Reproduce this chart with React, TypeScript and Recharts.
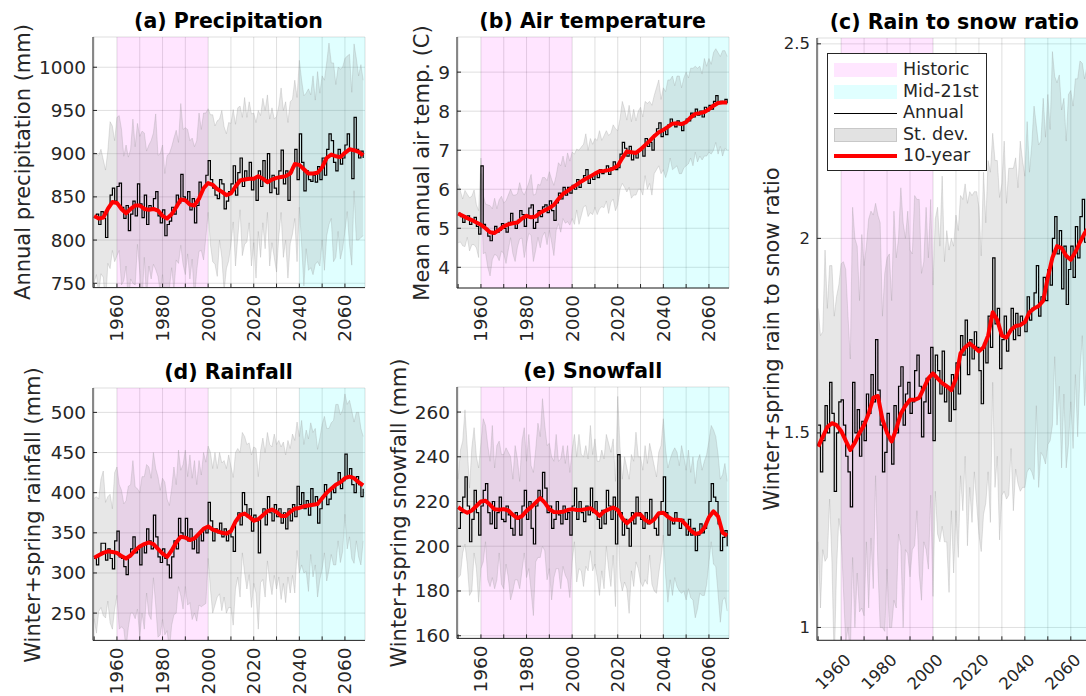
import React from 'react';
import { ComposedChart, Line, Area, XAxis, YAxis, CartesianGrid, ReferenceArea } from 'recharts';

const FIRST_YEAR = 1950;
const X_DOMAIN: [number, number] = [1949.5, 2068.8];
const X_TICKS = [1950, 1960, 1970, 1980, 1990, 2000, 2010, 2020, 2030, 2040, 2050, 2060];
const HISTORIC: [number, number] = [1960, 2000];
const MID_21ST: [number, number] = [2040, 2070];

// (a) annual precipitation, mm (one value per year from 1950)
const PRECIP_ANNUAL = [
  826, 830, 818, 833, 825, 803, 838, 852, 860, 845,
  862, 866, 838, 825, 840, 811, 830, 845, 828, 865,
  842, 826, 852, 818, 840, 835, 848, 856, 828, 820,
  835, 805, 818, 822, 838, 830, 852, 843, 876, 850,
  845, 856, 835, 848, 820, 840, 867, 858, 862, 875,
  892, 870, 860, 852, 848, 870, 865, 836, 845, 856,
  865, 886, 852, 878, 895, 862, 880, 870, 890, 858,
  872, 846, 880, 862, 892, 870, 900, 855, 875, 860,
  853, 880, 904, 865, 880, 846, 878, 885, 905, 870,
  923, 890, 857, 880, 870, 868, 875, 867, 885, 870,
  895, 875, 905, 923, 915, 890, 880, 905, 888, 895,
  910, 923, 905, 871, 942, 905, 895, 903, 895,
];
const PRECIP_SD = [
  75, 70, 80, 72, 68, 78, 65, 85, 72, 70,
  80, 78, 90, 72, 70, 85, 75, 95, 80, 70,
  78, 100, 72, 85, 70, 80, 76, 90, 70, 80,
  75, 72, 80, 78, 70, 88, 75, 70, 82, 78,
  85, 72, 80, 70, 88, 75, 80, 70, 85, 72,
  60, 75, 85, 80, 90, 70, 85, 95, 78, 80,
  70, 65, 82, 75, 60, 80, 85, 72, 70, 88,
  75, 90, 70, 82, 72, 80, 68, 85, 78, 80,
  90, 75, 72, 85, 80, 90, 82, 78, 80, 95,
  85, 95, 110, 90, 105, 100, 115, 95, 110, 100,
  95, 110, 100, 105, 90, 115, 100, 95, 110, 105,
  100, 90, 110, 100, 85, 105, 95, 100, 90,
];
// 10-year mean, every second year from 1950
const PRECIP_TEN = [
  828, 825, 826, 836, 844, 843, 836, 831, 836, 840,
  840, 836, 835, 836, 834, 828, 825, 830, 838, 847,
  846, 841, 840, 848, 860, 866, 864, 859, 856, 852,
  854, 862, 869, 870, 871, 871, 874, 871, 867, 870,
  872, 873, 874, 877, 888, 887, 882, 877, 877, 878,
  884, 895, 899, 897, 896, 901, 905, 904, 902, 898,
];

// (b) mean annual air temperature, C
const TEMP_ANNUAL = [
  5.38, 5.30, 5.15, 5.25, 5.32, 5.10, 5.20, 5.28, 5.05, 4.85,
  6.60, 5.10, 5.00, 4.80, 4.68, 4.85, 5.05, 4.90, 4.95, 5.12,
  5.00, 4.90, 5.15, 5.38, 5.10, 5.00, 5.20, 5.45, 5.35, 5.05,
  5.30, 5.52, 5.60, 5.00, 5.15, 5.45, 5.30, 5.55, 5.60, 5.40,
  5.70, 5.45, 5.20, 5.65, 5.90, 5.75, 6.05, 5.85, 6.05, 5.90,
  6.10, 6.00, 6.25, 6.05, 6.20, 6.35, 6.50, 6.15, 6.35, 6.25,
  6.42, 6.30, 6.50, 6.40, 6.45, 6.60, 6.38, 6.55, 6.70, 6.50,
  6.55, 6.90, 7.20, 7.05, 6.85, 7.10, 6.75, 6.95, 6.80, 7.00,
  7.05, 6.85, 7.30, 7.10, 7.20, 7.00, 7.40, 7.55, 7.70, 7.35,
  7.55, 7.40, 7.65, 7.80, 7.70, 7.60, 7.75, 7.65, 7.50, 7.70,
  7.80, 7.75, 7.95, 7.85, 8.05, 7.90, 8.00, 7.85, 8.10, 8.00,
  8.15, 8.05, 8.25, 8.40, 8.20, 8.25, 8.20, 8.30, 8.20,
];
const TEMP_SD = [
  0.75, 0.65, 0.60, 0.72, 0.55, 0.68, 0.62, 0.70, 0.55, 0.60,
  0.20, 0.75, 0.62, 0.80, 0.90, 0.65, 0.72, 0.60, 0.78, 0.70,
  0.65, 0.80, 0.70, 0.62, 0.75, 0.85, 0.68, 0.72, 0.60, 0.80,
  0.70, 0.65, 0.78, 0.85, 0.72, 0.68, 0.80, 0.75, 0.70, 0.82,
  0.75, 0.80, 0.90, 0.70, 0.78, 0.85, 0.80, 0.72, 0.88, 0.82,
  0.85, 0.90, 0.78, 0.95, 0.88, 0.80, 0.92, 0.85, 0.95, 0.90,
  0.88, 0.95, 1.00, 0.85, 0.92, 0.90, 1.00, 0.88, 0.95, 1.05,
  0.95, 0.90, 1.05, 1.00, 0.92, 1.05, 0.98, 1.10, 0.95, 1.00,
  1.05, 1.00, 0.95, 1.10, 1.05, 1.15, 1.00, 1.05, 1.10, 0.95,
  1.05, 1.10, 1.15, 1.00, 1.20, 1.05, 1.15, 1.25, 1.10, 1.15,
  1.20, 1.10, 1.15, 1.25, 1.10, 1.20, 1.15, 1.10, 1.25, 1.15,
  1.20, 1.15, 1.25, 1.20, 1.30, 1.15, 1.35, 1.25, 1.20,
];
const TEMP_TEN = [
  5.38, 5.32, 5.26, 5.21, 5.15, 5.09, 5.00, 4.90, 4.88, 4.96,
  5.05, 5.10, 5.13, 5.15, 5.25, 5.32, 5.28, 5.30, 5.40, 5.46,
  5.52, 5.60, 5.75, 5.88, 5.96, 6.04, 6.12, 6.20, 6.27, 6.33,
  6.40, 6.46, 6.47, 6.49, 6.53, 6.60, 6.80, 6.97, 6.95, 6.93,
  7.02, 7.13, 7.24, 7.36, 7.46, 7.52, 7.60, 7.68, 7.69, 7.67,
  7.72, 7.84, 7.93, 7.95, 7.98, 8.05, 8.14, 8.21, 8.22, 8.22,
];

// (c) winter+spring rain to snow ratio
const RATIO_ANNUAL = [
  1.52, 1.40, 1.48, 1.57, 1.50, 1.63, 1.55, 1.35, 1.50, 1.58,
  1.585, 1.52, 1.44, 1.40, 1.31, 1.63, 1.50, 1.56, 1.44, 1.53,
  1.48, 1.60, 1.55, 1.65, 1.58, 1.74, 1.61, 1.52, 1.40, 1.45,
  1.55, 1.48, 1.42, 1.57, 1.50, 1.62, 1.67, 1.52, 1.60, 1.63,
  1.55, 1.58, 1.66, 1.70, 1.62, 1.49, 1.58, 1.64, 1.55, 1.72,
  1.48, 1.70, 1.66, 1.60, 1.71, 1.58, 1.62, 1.53, 1.65, 1.56,
  1.68, 1.60, 1.75, 1.70, 1.79, 1.65, 1.74, 1.69, 1.76, 1.72,
  1.66, 1.575, 1.73, 1.68, 1.80, 1.72, 1.95, 1.78, 1.82, 1.665,
  1.74, 1.80, 1.71, 1.76, 1.82, 1.74, 1.807, 1.75, 1.80, 1.78,
  1.76, 1.85, 1.79, 1.82, 1.86, 1.93, 1.80, 1.85, 1.90, 1.84,
  1.92, 1.88, 2.00, 2.056, 1.96, 2.02, 1.87, 1.98, 1.83, 1.92,
  1.98, 1.90, 2.03, 1.95, 2.056, 2.10, 1.99, 2.06, 2.02,
];
const RATIO_SD = [
  0.30, 0.35, 0.28, 0.40, 0.32, 0.30, 0.38, 0.45, 0.35, 0.30,
  0.35, 0.42, 0.48, 0.40, 0.38, 0.45, 0.50, 0.42, 0.40, 0.48,
  0.45, 0.38, 0.50, 0.42, 0.48, 0.35, 0.45, 0.52, 0.40, 0.46,
  0.40, 0.48, 0.42, 0.50, 0.45, 0.38, 0.46, 0.52, 0.40, 0.44,
  0.42, 0.38, 0.45, 0.40, 0.48, 0.42, 0.36, 0.44, 0.40, 0.38,
  0.40, 0.35, 0.42, 0.38, 0.45, 0.36, 0.40, 0.44, 0.35, 0.42,
  0.38, 0.42, 0.36, 0.40, 0.35, 0.44, 0.38, 0.42, 0.36, 0.40,
  0.42, 0.38, 0.44, 0.36, 0.40, 0.45, 0.32, 0.42, 0.38, 0.44,
  0.40, 0.45, 0.38, 0.42, 0.36, 0.44, 0.40, 0.38, 0.45, 0.42,
  0.40, 0.45, 0.38, 0.42, 0.48, 0.36, 0.44, 0.40, 0.46, 0.42,
  0.45, 0.40, 0.48, 0.36, 0.44, 0.40, 0.46, 0.38, 0.42, 0.45,
  0.40, 0.44, 0.38, 0.46, 0.40, 0.35, 0.42, 0.38, 0.40,
];
const RATIO_TEN = [
  1.465, 1.49, 1.515, 1.525, 1.52, 1.505, 1.48, 1.456, 1.475, 1.50,
  1.52, 1.55, 1.59, 1.595, 1.535, 1.50, 1.478, 1.51, 1.55, 1.57,
  1.585, 1.585, 1.59, 1.615, 1.64, 1.653, 1.64, 1.628, 1.62, 1.61,
  1.64, 1.705, 1.72, 1.73, 1.72, 1.71, 1.72, 1.75, 1.81, 1.79,
  1.75, 1.745, 1.765, 1.775, 1.777, 1.785, 1.81, 1.82, 1.826, 1.84,
  1.90, 1.95, 1.98, 1.975, 1.955, 1.945, 1.965, 1.99, 2.013, 2.03,
];

// (d) winter+spring rainfall, mm
const RAIN_ANNUAL = [
  318, 310, 322, 337, 337, 316, 330, 318, 305, 340,
  352, 320, 318, 308, 298, 320, 330, 345, 325, 330,
  310, 335, 325, 355, 340, 330, 372, 345, 320, 313,
  330, 318, 310, 294, 320, 340, 330, 368, 350, 345,
  368, 340, 355, 330, 345, 325, 350, 340, 355, 350,
  388, 365, 340, 355, 350, 362, 345, 355, 340, 352,
  345, 327, 365, 375, 360, 400, 385, 370, 380, 352,
  372, 365, 325, 370, 380, 360, 395, 375, 365, 385,
  370, 380, 362, 375, 355, 380, 365, 385, 370, 408,
  385, 400, 380, 390, 372, 405, 385, 395, 362, 380,
  395, 410, 385, 392, 405, 400, 410, 425, 405, 415,
  448, 420, 430, 410, 400, 420, 410, 395, 405,
];
const RAIN_SD = [
  75, 85, 70, 80, 90, 72, 65, 80, 75, 85,
  80, 90, 85, 78, 92, 88, 80, 95, 82, 75,
  90, 85, 95, 80, 92, 88, 78, 85, 100, 90,
  88, 95, 82, 90, 85, 92, 80, 85, 78, 90,
  85, 80, 92, 88, 95, 85, 90, 82, 95, 88,
  70, 85, 90, 95, 80, 88, 92, 85, 90, 95,
  88, 92, 85, 80, 90, 75, 85, 90, 82, 95,
  85, 90, 95, 82, 88, 90, 80, 85, 92, 88,
  90, 85, 95, 88, 92, 85, 90, 88, 95, 80,
  85, 90, 80, 88, 95, 82, 90, 85, 92, 88,
  90, 85, 95, 88, 82, 90, 100, 85, 92, 88,
  75, 90, 85, 92, 88, 80, 90, 85, 65,
];
const RAIN_TEN = [
  319, 322, 325, 327, 326, 325, 321, 318, 322, 328,
  333, 336, 338, 336, 330, 324, 320, 328, 338, 345,
  344, 341, 343, 349, 355, 358, 354, 352, 350, 349,
  352, 364, 372, 374, 370, 365, 367, 372, 377, 379,
  376, 371, 371, 376, 380, 381, 383, 384, 385, 386,
  393, 400, 405, 410, 413, 418, 420, 418, 413, 409,
];

// (e) winter+spring snowfall, mm
const SNOW_ANNUAL = [
  208, 215, 222, 231, 218, 202, 212, 225, 215, 205,
  218, 225, 228, 215, 210, 220, 208, 215, 222, 212,
  211, 218, 214, 208, 205, 215, 212, 205, 218, 225,
  212, 220, 208, 201, 218, 225, 222, 233, 226, 215,
  218, 208, 212, 220, 214, 210, 218, 212, 215, 205,
  218, 226, 212, 220, 215, 211, 218, 214, 226, 215,
  220, 212, 208, 216, 210, 225, 218, 212, 222, 201,
  241, 215, 205, 212, 208, 200, 215, 210, 222, 215,
  212, 208, 215, 210, 221, 212, 208, 205, 215, 220,
  231, 215, 205, 212, 210, 215, 212, 208, 212, 210,
  205, 212, 205, 208, 198, 205, 210, 206, 208, 212,
  220, 228, 222, 220, 210, 198, 204, 207, 200,
];
const SNOW_SD = [
  22, 28, 25, 30, 26, 24, 32, 28, 25, 30,
  28, 32, 26, 30, 28, 34, 27, 30, 25, 29,
  30, 26, 28, 32, 25, 30, 27, 24, 29, 28,
  26, 30, 28, 32, 25, 30, 27, 33, 28, 30,
  28, 32, 26, 30, 24, 29, 27, 25, 30, 28,
  25, 24, 28, 30, 26, 29, 27, 25, 28, 26,
  28, 26, 30, 27, 29, 25, 28, 30, 26, 28,
  26, 29, 25, 28, 27, 30, 26, 28, 29, 25,
  28, 26, 30, 27, 25, 29, 28, 26, 27, 25,
  26, 28, 30, 27, 32, 29, 30, 28, 33, 30,
  29, 31, 28, 32, 30, 33, 31, 28, 30, 29,
  27, 26, 30, 29, 31, 32, 28, 30, 29,
];
const SNOW_TEN = [
  217.5, 216, 215, 216, 218, 220, 220.3, 218.5, 216.5, 216.3,
  216.6, 216, 214, 212.6, 213.5, 215.8, 217.5, 219.5, 221.5, 219.5,
  216.5, 215.3, 215.2, 215.4, 216.2, 216.6, 216.2, 216.2, 216.6, 217,
  215.5, 213.6, 215.5, 216.5, 217.3, 216.2, 212.5, 210.3, 212, 214.3,
  214.2, 211.8, 210.6, 212, 214.8, 215, 213.2, 211.9, 211.8, 211.6,
  209.5, 207, 205.5, 206, 208.2, 213, 215.6, 213.4, 206, 204.8,
];

const AXIS = '#262626';
const FONT = '"DejaVu Sans", Verdana, sans-serif';
const GAP = 7;
const TICK_LEN = 4;

interface Row {
  year: number;
  annual: number;
  band: [number, number];
  ten: number | null;
}

function buildRows(annual: number[], sd: number[], ten: number[]): Row[] {
  return annual.map((v, i) => ({
    year: FIRST_YEAR + i,
    annual: v,
    band: [v - sd[i], v + sd[i]],
    ten: i % 2 === 0 ? ten[i / 2] : null,
  }));
}

const bottomTick = (fs: number, angle: number) => (p: any) => {
  const { x, y, payload } = p;
  const v = payload.value as number;
  const axisY = y - GAP;
  let label: React.ReactNode = null;
  if (v % 20 === 0) {
    if (angle === -90) {
      label = (
        <text x={x} y={y} transform={`rotate(-90 ${x} ${y})`} textAnchor="end" dominantBaseline="central"
          fontSize={fs} fill={AXIS} fontFamily={FONT}>{v}</text>
      );
    } else {
      const ax = x + 7;
      const ay = axisY + 17;
      label = (
        <text x={ax} y={ay} transform={`rotate(-45 ${ax} ${ay})`} textAnchor="end" dominantBaseline="central"
          fontSize={fs} fill={AXIS} fontFamily={FONT}>{v}</text>
      );
    }
  }
  return (
    <g>
      <line x1={x} x2={x} y1={axisY} y2={axisY - TICK_LEN} stroke={AXIS} strokeWidth={1} />
      {label}
    </g>
  );
};

const leftTick = (fs: number) => (p: any) => {
  const { x, y, payload } = p;
  const axisX = x + GAP;
  return (
    <g>
      <line x1={axisX} x2={axisX + TICK_LEN} y1={y} y2={y} stroke={AXIS} strokeWidth={1} />
      <text x={x} y={y} textAnchor="end" dominantBaseline="central" fontSize={fs} fill={AXIS} fontFamily={FONT}>
        {payload.value}
      </text>
    </g>
  );
};

const topTick = (p: any) => (
  <line x1={p.x} x2={p.x} y1={p.y + GAP} y2={p.y + GAP + TICK_LEN} stroke={AXIS} strokeWidth={1} />
);

const rightTick = (p: any) => (
  <line x1={p.x - GAP} x2={p.x - GAP - TICK_LEN} y1={p.y} y2={p.y} stroke={AXIS} strokeWidth={1} />
);

interface PanelProps {
  title: string;
  yLabel: string;
  rows: Row[];
  px: number;
  py: number;
  pw: number;
  ph: number;
  yDomain: [number, number];
  yTicks: number[];
  tickFs: number;
  angle: number;
  labelX: number;
}

const Y_AXIS_W = 72;
const X_AXIS_H = 62;
const TOP_PAD = 12;

function Panel({ title, yLabel, rows, px, py, pw, ph, yDomain, yTicks, tickFs, angle, labelX }: PanelProps) {
  return (
    <>
      <div style={{ position: 'absolute', left: px - Y_AXIS_W, top: py - TOP_PAD }}>
        <ComposedChart
          width={Y_AXIS_W + pw + 3}
          height={TOP_PAD + ph + X_AXIS_H}
          data={rows}
          margin={{ top: TOP_PAD, right: 3, bottom: 0, left: 0 }}
        >
          <ReferenceArea x1={HISTORIC[0]} x2={HISTORIC[1]} fill="#ff00ff" fillOpacity={0.1} stroke="none" ifOverflow="hidden" />
          <ReferenceArea x1={MID_21ST[0]} x2={MID_21ST[1]} fill="#00ffff" fillOpacity={0.12} stroke="none" ifOverflow="hidden" />
          <CartesianGrid stroke={AXIS} strokeOpacity={0.15} />
          <XAxis
            dataKey="year" type="number" domain={X_DOMAIN} ticks={X_TICKS} allowDataOverflow interval={0}
            height={X_AXIS_H} tickSize={0} tickMargin={GAP} tickLine={false}
            axisLine={{ stroke: AXIS }} tick={bottomTick(tickFs, angle)}
          />
          <XAxis
            xAxisId="top" orientation="top" type="number" domain={X_DOMAIN} ticks={X_TICKS} allowDataOverflow interval={0}
            height={0} tickSize={0} tickMargin={GAP} tickLine={false} axisLine={{ stroke: AXIS }} tick={topTick}
          />
          <YAxis
            type="number" domain={yDomain} ticks={yTicks} allowDataOverflow interval={0}
            width={Y_AXIS_W} tickSize={0} tickMargin={GAP} tickLine={false}
            axisLine={{ stroke: AXIS }} tick={leftTick(tickFs)}
          />
          <YAxis
            yAxisId="right" orientation="right" type="number" domain={yDomain} ticks={yTicks} allowDataOverflow interval={0}
            width={0} tickSize={0} tickMargin={GAP} tickLine={false} axisLine={{ stroke: AXIS }} tick={rightTick}
          />
          <Area
            dataKey="band" type="linear" fill="#808080" fillOpacity={0.19} stroke="#9a9a9a" strokeOpacity={0.35}
            strokeWidth={0.8} dot={false} activeDot={false} isAnimationActive={false}
          />
          <Line
            dataKey="annual" type="stepAfter" stroke="#000000" strokeWidth={1.2} dot={false} activeDot={false}
            isAnimationActive={false}
          />
          <Line
            dataKey="ten" type="linear" connectNulls stroke="#ff0000" strokeWidth={4} strokeLinejoin="round"
            dot={false} activeDot={false} isAnimationActive={false}
          />
        </ComposedChart>
      </div>
      <div
        style={{
          position: 'absolute', left: px + pw / 2, top: py - 16, transform: 'translate(-50%, -50%)',
          whiteSpace: 'nowrap', fontWeight: 'bold', fontSize: 20.5, lineHeight: 1, color: '#000',
        }}
      >
        {title}
      </div>
      <div
        style={{
          position: 'absolute', left: labelX, top: py + ph / 2, transform: 'translate(-50%, -50%) rotate(-90deg)',
          whiteSpace: 'nowrap', fontSize: 21, lineHeight: 1, color: AXIS,
        }}
      >
        {yLabel}
      </div>
    </>
  );
}

const LEGEND_ITEMS = [
  { label: 'Historic', kind: 'patch', color: '#ffe6ff', edge: '#ffe6ff' },
  { label: 'Mid-21st', kind: 'patch', color: '#e0ffff', edge: '#e0ffff' },
  { label: 'Annual', kind: 'line', color: '#000000', width: 1 },
  { label: 'St. dev.', kind: 'patch', color: '#e2e2e2', edge: '#c8c8c8' },
  { label: '10-year', kind: 'line', color: '#ff0000', width: 4 },
];

function Legend() {
  return (
    <div
      style={{
        position: 'absolute', left: 827, top: 53, width: 160, height: 118, boxSizing: 'border-box',
        border: `1px solid ${AXIS}`, background: '#ffffff',
      }}
    >
      {LEGEND_ITEMS.map((it, i) => (
        <div key={it.label} style={{ position: 'absolute', left: 6, top: 16 + i * 21.5, height: 0 }}>
          {it.kind === 'patch' ? (
            <div
              style={{
                position: 'absolute', left: 0, top: -7, width: 63, height: 14, boxSizing: 'border-box',
                background: it.color, border: `1px solid ${it.edge}`,
              }}
            />
          ) : (
            <div
              style={{
                position: 'absolute', left: 0, top: -(it.width as number) / 2, width: 63, height: it.width,
                background: it.color,
              }}
            />
          )}
          <div
            style={{
              position: 'absolute', left: 69, top: 0, transform: 'translateY(-50%)', whiteSpace: 'nowrap',
              fontSize: 17.5, lineHeight: 1, color: AXIS,
            }}
          >
            {it.label}
          </div>
        </div>
      ))}
    </div>
  );
}

export default function App() {
  const precip = buildRows(PRECIP_ANNUAL, PRECIP_SD, PRECIP_TEN);
  const temp = buildRows(TEMP_ANNUAL, TEMP_SD, TEMP_TEN);
  const ratio = buildRows(RATIO_ANNUAL, RATIO_SD, RATIO_TEN);
  const rain = buildRows(RAIN_ANNUAL, RAIN_SD, RAIN_TEN);
  const snow = buildRows(SNOW_ANNUAL, SNOW_SD, SNOW_TEN);
  return (
    <div
      style={{
        position: 'fixed', left: 0, top: 0, width: 1086, height: 696, overflow: 'hidden',
        background: '#ffffff', fontFamily: FONT,
      }}
    >
      <Panel
        title="(a) Precipitation" yLabel="Annual precipitation (mm)" rows={precip}
        px={92.5} py={36.7} pw={272} ph={250.6} yDomain={[745, 1035]} yTicks={[750, 800, 850, 900, 950, 1000]}
        tickFs={18.5} angle={-90} labelX={22.5}
      />
      <Panel
        title="(b) Air temperature" yLabel="Mean annual air temp. (C)" rows={temp}
        px={456.7} py={37.3} pw={272} ph={251} yDomain={[3.47, 9.9]} yTicks={[4, 5, 6, 7, 8, 9]}
        tickFs={18.5} angle={-90} labelX={422}
      />
      <Panel
        title="(d) Rainfall" yLabel="Winter+spring rainfall (mm)" rows={rain}
        px={92.5} py={388.3} pw={272} ph={252.4} yDomain={[216, 530.4]} yTicks={[250, 300, 350, 400, 450, 500]}
        tickFs={18.5} angle={-90} labelX={32.5}
      />
      <Panel
        title="(e) Snowfall" yLabel="Winter+spring snowfall (mm)" rows={snow}
        px={456.7} py={387.3} pw={272} ph={251.4} yDomain={[158.8, 271.2]} yTicks={[160, 180, 200, 220, 240, 260]}
        tickFs={18.5} angle={-90} labelX={398.5}
      />
      <Panel
        title="(c) Rain to snow ratio" yLabel="Winter+spring rain to snow ratio" rows={ratio}
        px={817.3} py={37.7} pw={274} ph={602.3} yDomain={[0.967, 2.515]} yTicks={[1, 1.5, 2, 2.5]}
        tickFs={16.5} angle={-45} labelX={772}
      />
      <Legend />
    </div>
  );
}
